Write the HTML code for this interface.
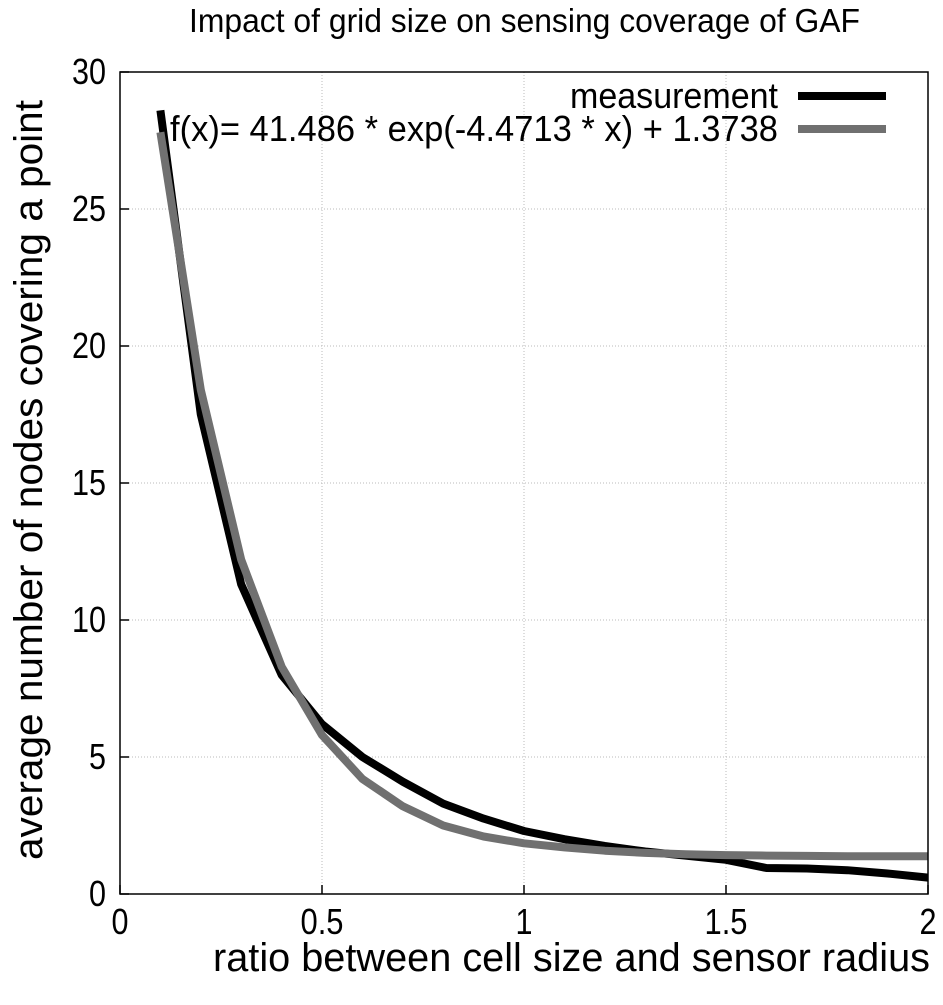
<!DOCTYPE html>
<html><head><meta charset="utf-8"><style>
body{margin:0;background:#fff;}
svg text{font-family:"Liberation Sans",sans-serif;fill:#000;}
</style></head><body>
<svg id="chart" width="943" height="1000" viewBox="0 0 943 1000" xmlns="http://www.w3.org/2000/svg">
<text x="189" y="32" font-size="33" textLength="671" lengthAdjust="spacingAndGlyphs">Impact of grid size on sensing coverage of GAF</text>
<g id="grid"></g>
<g id="ticks"></g>
<g id="series"></g>
<rect x="120" y="72" width="808" height="822" fill="none" stroke="#000" stroke-width="1.5"/>
<text x="213" y="971" font-size="40" textLength="717" lengthAdjust="spacingAndGlyphs">ratio between cell size and sensor radius</text>
<text transform="translate(42,860) rotate(-90)" font-size="40" textLength="760" lengthAdjust="spacingAndGlyphs">average number of nodes covering a point</text>
<g>
<text x="570" y="108" font-size="36" textLength="208" lengthAdjust="spacingAndGlyphs">measurement</text>
<line x1="798" y1="96" x2="886" y2="96" stroke="#000" stroke-width="8"/>
<text x="170" y="141" font-size="36" textLength="608" lengthAdjust="spacingAndGlyphs">f(x)= 41.486 * exp(-4.4713 * x) + 1.3738</text>
<line x1="798" y1="129" x2="886" y2="129" stroke="#707070" stroke-width="8"/>
</g>
</svg>
<script>
const xs = [0.1,0.2,0.3,0.4,0.5,0.6,0.7,0.8,0.9,1.0,1.1,1.2,1.3,1.4,1.5,1.6,1.7,1.8,1.9,2.0];
const measurement = [28.6,17.5,11.3,8.0,6.2,5.0,4.1,3.3,2.75,2.3,2.0,1.75,1.55,1.4,1.25,0.95,0.93,0.87,0.75,0.6];
const fit = [27.8,18.4,12.2,8.3,5.8,4.2,3.2,2.5,2.1,1.85,1.7,1.58,1.5,1.45,1.42,1.4,1.39,1.38,1.38,1.38];
const xTicks = [0,0.5,1,1.5,2];
const xTickLabels = ["0","0.5","1","1.5","2"];
const yTicks = [0,5,10,15,20,25,30];
const yTickLabels = ["0","5","10","15","20","25","30"];
const L=120,R=928,T=72,B=894;
const sx=v=>L+(v-0)/(2-0)*(R-L);
const sy=v=>B-(v-0)/(30-0)*(B-T);
const NS="http://www.w3.org/2000/svg";
const grid=document.getElementById('grid'),ticks=document.getElementById('ticks'),series=document.getElementById('series');
function mk(tag,parent,attrs){const e=document.createElementNS(NS,tag);for(const k in attrs)e.setAttribute(k,attrs[k]);parent.appendChild(e);return e;}
function tw(s){let w=0;for(const c of s)w+=(c==='.')?9:17;return w;}
xTicks.forEach((v,i)=>{
  const x=sx(v);
  if(i>0&&i<xTicks.length-1){const g=mk('line',grid,{x1:x,y1:T,x2:x,y2:B,stroke:'#bbb','stroke-width':1,'stroke-dasharray':'1,2'});
  
  }
  const t=mk('line',ticks,{x1:x,y1:B,x2:x,y2:B-9,stroke:'#000','stroke-width':1.5});
  
  
  const s=xTickLabels[i],w=tw(s);
  const l=mk('text',ticks,{x:x-w/2,y:B+40,'font-size':36,textLength:w,lengthAdjust:'spacingAndGlyphs'});l.textContent=s;
  
  
});
yTicks.forEach((v,i)=>{
  const y=sy(v);
  if(i>0&&i<yTicks.length-1){const g=mk('line',grid,{x1:L,y1:y,x2:R,y2:y,stroke:'#bbb','stroke-width':1,'stroke-dasharray':'1,2'});
  
  }
  const t=mk('line',ticks,{x1:L,y1:y,x2:L+9,y2:y,stroke:'#000','stroke-width':1.5});
  
  
  const s=yTickLabels[i],w=tw(s);
  const l=mk('text',ticks,{x:L-14-w,y:y+12,'font-size':36,textLength:w,lengthAdjust:'spacingAndGlyphs'});l.textContent=s;
  
  
});
function line(vals,color,name){
  const d=vals.map((v,i)=>(i?'L':'M')+sx(xs[i]).toFixed(1)+','+sy(v).toFixed(1)).join(' ');
  const p=mk('path',series,{d:d,fill:'none',stroke:color,'stroke-width':8,'stroke-linejoin':'round'});
  
  
}
line(measurement,'#000','measurement-line');
line(fit,'#707070','fit-line');
</script>
</body></html>
